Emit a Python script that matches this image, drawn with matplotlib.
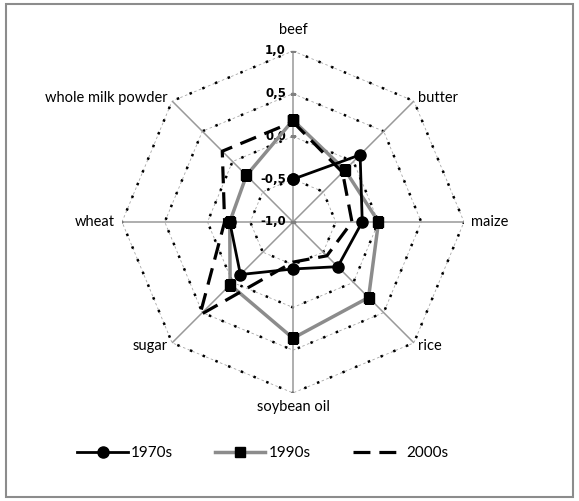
import numpy as np
import matplotlib
matplotlib.use("Agg")
import matplotlib.pyplot as plt
from matplotlib.patches import Rectangle

# Datos
categorias = ["beef", "butter", "maize", "rice", "soybean oil", "sugar", "wheat", "whole milk powder"]
serie_1970 = [-0.50, 0.11, -0.19, -0.26, -0.45, -0.13, -0.26, np.nan]
serie_1990 = [0.19, -0.14, 0.00, 0.25, 0.36, 0.04, -0.26, -0.23]
serie_2000 = [0.17, -0.18, -0.31, -0.44, -0.53, 0.54, -0.20, 0.17]
ticks_r = [-1.0, -0.5, 0.0, 0.5, 1.0]
ticks_txt = ["-1,0", "-0,5", "0,0", "0,5", "1,0"]

plt.rcParams['font.family'] = ['Lato', 'DejaVu Sans']

fig = plt.figure(figsize=(5.79, 5.01), dpi=100)
fig.patches.append(Rectangle((6 / 579, 4 / 501), 567 / 579, 493 / 501, transform=fig.transFigure,
                             fill=False, edgecolor='#8c8c8c', lw=1.5))

ax = fig.add_axes([0.2107, 0.2157, 0.5907, 0.6826], projection='polar')
ax.set_theta_offset(np.pi / 2)
ax.set_theta_direction(-1)
ax.set_rlim(-1, 1)
ax.grid(False)
ax.spines['polar'].set_visible(False)
ax.set_xticks([])
ax.set_yticks([])
ax.patch.set_alpha(0)

n = len(categorias)
ang = np.arange(n) * 2 * np.pi / n
ang_c = np.append(ang, ang[0])

# Rejilla
for r in ticks_r[1:]:
    ax.plot(ang_c, [r] * (n + 1), color='#a6a6a6', lw=0.6, ls=(0, (3, 3)), zorder=1)
    ax.plot(ang_c, [r] * (n + 1), color='black', lw=1.8, ls=(0, (1, 4.5)), zorder=1)
for a in ang:
    ax.plot([a, a], [-1, 1], color='#999999', lw=1.1, zorder=1)

# Marcas y valores del eje
ax.plot([0] * len(ticks_r), ticks_r, ls='none', marker='_', ms=5, color='#808080', zorder=2)
for r, t in zip(ticks_r, ticks_txt):
    ax.annotate(t, (0, r), xytext=(-5, 0), textcoords='offset points', family='DejaVu Sans',
                ha='right', va='center', fontsize=8.5, fontweight='bold', color='black', zorder=3)

# Series
def cerrar(v):
    return list(v) + [v[0]]

ax.plot(ang_c, cerrar(serie_1970), color='black', lw=2, marker='o', ms=8, label='1970s', zorder=5)
ax.plot(ang_c, cerrar(serie_1990), color='#8c8c8c', lw=2.5, marker='s', ms=7.5, mfc='black', mec='black',
        label='1990s', zorder=4)
ax.plot(ang_c, cerrar(serie_2000), color='black', lw=2.3, ls=(0, (5.3, 2.8)), label='2000s', zorder=6)

# Etiquetas de categorias
pos = [(0, 10), (3, 2), (5, 0), (3, -2), (0, -5), (-3, -2), (-5, 0), (-3, 2)]
alin = [('center', 'bottom'), ('left', 'center'), ('left', 'center'), ('left', 'center'),
        ('center', 'top'), ('right', 'center'), ('right', 'center'), ('right', 'center')]
for a, c, p, (h, v) in zip(ang, categorias, pos, alin):
    ax.annotate(c, (a, 1), xytext=p, textcoords='offset points', ha=h, va=v,
                fontsize=10.5, color='black', annotation_clip=False)

fig.legend(loc='center', bbox_to_anchor=(0.454, 0.096), ncol=3, frameon=False,
           handlelength=3.3, columnspacing=2.75, handletextpad=0.2, fontsize=11)

fig.savefig("out.png", dpi=100)
